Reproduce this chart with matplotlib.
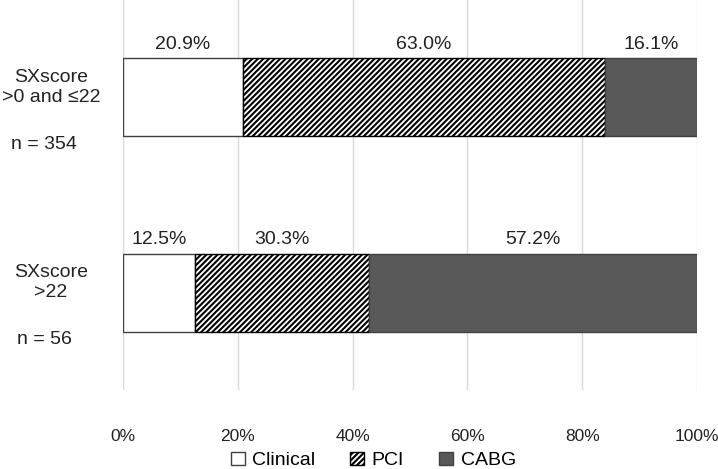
import matplotlib.pyplot as plt
from matplotlib.patches import Patch
from matplotlib.transforms import blended_transform_factory

plt.rcParams['font.family'] = ['Liberation Sans', 'DejaVu Sans']
plt.rcParams['hatch.linewidth'] = 1.5

groups = ['SXscore\n>0 and \u226422', 'SXscore\n>22']
counts = ['n = 354', 'n = 56']
series = ['Clinical', 'PCI', 'CABG']
clinical = [20.9, 12.5]
pci = [63.0, 30.3]
cabg = [16.1, 57.2]
ticks = [0, 20, 40, 60, 80, 100]

fig = plt.figure(figsize=(7.18, 4.69), dpi=100)
ax = fig.add_axes([123 / 718, 79 / 469, 574 / 718, 390 / 469])

ypos = [0.5, 1.5]
edge = '#404040'
txt = '#222222'
styles = [
    dict(color='white', edgecolor=edge, hatch=None),
    dict(color='white', edgecolor='black', hatch='//////'),
    dict(color='#595959', edgecolor=edge, hatch=None),
]

left = [0, 0]
for vals, st in zip([clinical, pci, cabg], styles):
    ax.barh(ypos, vals, left=left, height=0.4, color=st['color'],
            edgecolor=st['edgecolor'], hatch=st['hatch'], linewidth=1.0, zorder=3)
    for y, l, v in zip(ypos, left, vals):
        ax.text(l + v / 2, y - 0.27, f'{v:.1f}%', ha='center', va='center',
                fontsize=14, color=txt)
    left = [a + b for a, b in zip(left, vals)]

ax.set_xlim(0, 100)
ax.set_ylim(2, 0)
ax.set_xticks(ticks)
ax.set_xticklabels([f'{t}%' for t in ticks])
ax.set_yticks([])
ax.tick_params(axis='x', length=0, pad=28, labelsize=12.5, colors=txt)
ax.grid(axis='x', color='#d9d9d9', linewidth=1, zorder=0)
for s in ax.spines.values():
    s.set_visible(False)

trans = blended_transform_factory(fig.transFigure, ax.transData)
for y, g, n in zip(ypos, groups, counts):
    ax.text(51 / 718, y - 0.05, g, transform=trans, ha='center', va='center',
            fontsize=14, linespacing=1.25, color=txt)
    ax.text(44 / 718, y + 0.24, n, transform=trans, ha='center', va='center',
            fontsize=14, color=txt)

handles = [Patch(facecolor=st['color'], edgecolor=st['edgecolor'], hatch=st['hatch'], linewidth=1)
           for st in styles]
fig.legend(handles, series, loc='center', bbox_to_anchor=(0.52, 0.018), ncol=3,
           frameon=False, fontsize=14, handlelength=0.7, handleheight=0.7,
           handletextpad=0.4, columnspacing=1.8)

fig.savefig('out.png', dpi=100)
